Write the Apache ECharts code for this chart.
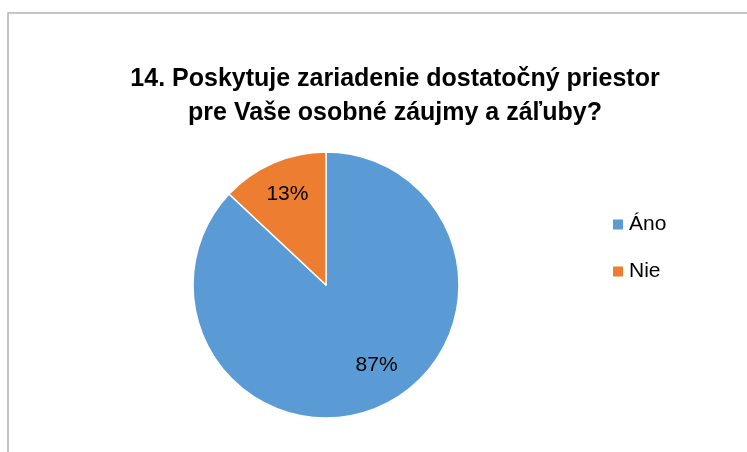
<!DOCTYPE html>
<html>
<head>
    <meta charset="utf-8">
    <title>pie</title>
    <script src="https://cdn.jsdelivr.net/npm/echarts@6/dist/echarts.min.js"></script>
    <style>
        html, body { margin: 0; padding: 0; background: #fff; }
    </style>
</head>
<body>
<div id="pieDiagram" style="width: 747px;height:452px;"></div>

<script>
    // data
    var categories = ['Áno', 'Nie'];
    var values     = [87, 13];
    var colors     = ['#5b9bd5', '#ed7d31'];
    // label nudges (Excel puts the labels a bit off the mid-radius)
    var labelOffsets = [[23, 16], [-11, -27]];

    var chart = echarts.init(document.getElementById('pieDiagram'));

    var data = categories.map(function (name, i) {
        return {
            name: name,
            value: values[i],
            itemStyle: { color: colors[i] },
            label: { offset: labelOffsets[i] }
        };
    });

    var option = {
        backgroundColor: '#fff',
        animation: false,
        graphic: [{
            type: 'rect',
            shape: { x: 8, y: 13, width: 800, height: 500 },
            style: { fill: 'none', stroke: '#b3b3b3', lineWidth: 1.5 },
            silent: true
        }],
        title: {
            text: '14. Poskytuje zariadenie dostatočný priestor\npre Vaše osobné záujmy a záľuby?',
            left: 390,
            textAlign: 'center',
            top: 57,
            padding: 5,
            textStyle: {
                color: '#000',
                fontFamily: 'Liberation Sans',
                fontWeight: 'bold',
                fontSize: 25,
                lineHeight: 34
            }
        },
        legend: {
            orient: 'vertical',
            left: 606,
            top: 209,
            itemWidth: 12,
            itemHeight: 12,
            itemGap: 26,
            icon: 'rect',
            textStyle: {
                color: '#000',
                fontFamily: 'Liberation Sans',
                fontSize: 21
            },
            data: categories
        },
        series: [{
            type: 'pie',
            center: [326, 285],
            radius: [0, 133],
            startAngle: 90,
            clockwise: true,
            silent: true,
            itemStyle: { borderColor: '#fff', borderWidth: 1.5 },
            label: {
                show: true,
                position: 'inside',
                formatter: '{d}%',
                color: '#000',
                fontFamily: 'Liberation Sans',
                fontSize: 21
            },
            labelLine: { show: false },
            data: data
        }]
    };

    chart.setOption(option);
</script>
</body>
</html>
